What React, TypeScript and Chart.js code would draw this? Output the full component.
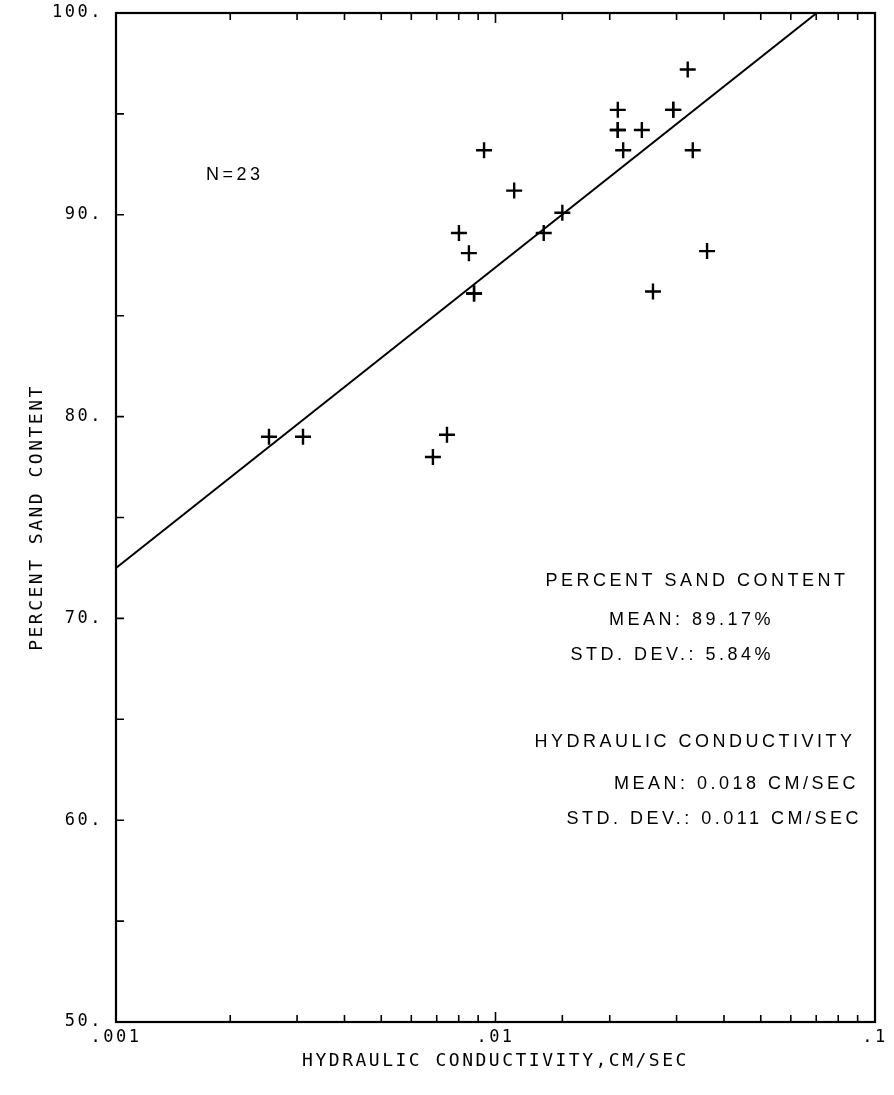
import { useEffect, useRef } from 'react';
import { Chart, registerables } from 'chart.js';

Chart.register(...registerables);

// Hydraulic conductivity (cm/sec) and percent sand content for each sample
const conductivity = [
  0.00253, 0.00311, 0.00684, 0.00745, 0.00801, 0.00851, 0.00878, 0.00878,
  0.00933, 0.0112, 0.0134, 0.0150, 0.0210, 0.0210, 0.0210, 0.0217, 0.0243,
  0.0260, 0.0294, 0.0294, 0.0321, 0.0331, 0.0361,
];
const sandContent = [
  79.0, 79.0, 78.0, 79.1, 89.1, 88.1, 86.1, 86.1,
  93.2, 91.2, 89.1, 90.1, 95.2, 94.2, 94.2, 93.2, 94.2,
  86.2, 95.2, 95.2, 97.2, 93.2, 88.2,
];

// Fitted regression line end points
const fitConductivity = [0.001, 0.0702];
const fitSand = [72.5, 100];

// Axis ticks
const xTickLabels: [number, string][] = [
  [0.001, '.001'],
  [0.01, '.01'],
  [0.1, '.1'],
];
const yTickLabels: [number, string][] = [
  [50, '50.'],
  [60, '60.'],
  [70, '70.'],
  [80, '80.'],
  [90, '90.'],
  [100, '100.'],
];

const sampleCount = 'N=23';
const sandSummary = ['PERCENT SAND CONTENT', 'MEAN: 89.17%', 'STD. DEV.: 5.84%'];
const conductivitySummary = [
  'HYDRAULIC CONDUCTIVITY',
  'MEAN: 0.018 CM/SEC',
  'STD. DEV.: 0.011 CM/SEC',
];

const W = 894;
const H = 1095;
const MONO = '"DejaVu Sans Mono", monospace';
const SANS = '"Liberation Sans", Arial, sans-serif';

const near = (a: number, b: number) => Math.abs(a - b) <= Math.abs(b) * 1e-6;
const isDecade = (v: number) => near(Math.log10(v), Math.round(Math.log10(v)));

const framePlugin = {
  id: 'frameAndText',
  beforeDraw(chart: any) {
    (chart.ctx as any).letterSpacing = '2.5px';
  },
  afterDraw(chart: any) {
    const { ctx, chartArea, scales } = chart;
    const { left, right, top, bottom } = chartArea;
    ctx.save();
    ctx.strokeStyle = '#000';
    ctx.lineWidth = 2.2;
    ctx.strokeRect(left, top, right - left, bottom - top);

    // inward tick marks on bottom, top and left edges
    ctx.lineWidth = 1.6;
    ctx.beginPath();
    for (const t of scales.x.ticks) {
      const px = scales.x.getPixelForValue(t.value);
      if (px <= left + 1 || px >= right - 1) continue;
      const len = isDecade(t.value) ? 10 : 7;
      ctx.moveTo(px, bottom);
      ctx.lineTo(px, bottom - len);
      ctx.moveTo(px, top);
      ctx.lineTo(px, top + len);
    }
    for (const t of scales.y.ticks) {
      const py = scales.y.getPixelForValue(t.value);
      if (py <= top + 1 || py >= bottom - 1) continue;
      ctx.moveTo(left, py);
      ctx.lineTo(left + 8, py);
    }
    ctx.stroke();

    // sample count and summary statistics
    ctx.fillStyle = '#000';
    ctx.textBaseline = 'middle';
    ctx.font = `18px ${SANS}`;
    ctx.letterSpacing = '3.5px';

    ctx.textAlign = 'left';
    ctx.fillText(sampleCount, 206, 175);

    ctx.textAlign = 'center';
    ctx.fillText(sandSummary[0], 697, 581);
    ctx.textAlign = 'right';
    ctx.fillText(sandSummary[1], 774, 620);
    ctx.fillText(sandSummary[2], 774, 655);

    ctx.textAlign = 'center';
    ctx.fillText(conductivitySummary[0], 695, 742);
    ctx.textAlign = 'right';
    ctx.fillText(conductivitySummary[1], 859, 784);
    ctx.fillText(conductivitySummary[2], 862, 819);
    ctx.restore();
  },
};

export default function App() {
  const canvasRef = useRef<HTMLCanvasElement | null>(null);

  useEffect(() => {
    const canvas = canvasRef.current;
    if (!canvas) return;

    const points = conductivity.map((x, i) => ({ x, y: sandContent[i] }));
    const fit = fitConductivity.map((x, i) => ({ x, y: fitSand[i] }));

    const chart = new Chart(canvas, {
      type: 'scatter',
      data: {
        datasets: [
          {
            type: 'line',
            data: fit,
            borderColor: '#000',
            borderWidth: 2,
            pointRadius: 0,
            fill: false,
          } as any,
          {
            type: 'scatter',
            data: points,
            pointStyle: 'cross',
            pointRadius: 8,
            borderColor: '#000',
            backgroundColor: '#000',
            borderWidth: 2.4,
          } as any,
        ],
      },
      options: {
        responsive: false,
        animation: false,
        events: [],
        layout: { padding: { left: 0, top: 13, right: W - 875, bottom: 0 } },
        plugins: {
          legend: { display: false },
          tooltip: { enabled: false },
        },
        scales: {
          x: {
            type: 'logarithmic',
            position: 'bottom',
            min: 0.001,
            max: 0.1,
            grid: { display: false, drawTicks: false },
            border: { display: false },
            ticks: {
              autoSkip: false,
              maxRotation: 0,
              padding: 5,
              color: '#000',
              font: { family: MONO, size: 17 },
              callback: (v: any) => {
                const hit = xTickLabels.find(([val]) => near(Number(v), val));
                return hit ? hit[1] : '';
              },
            },
            title: {
              display: true,
              text: 'HYDRAULIC CONDUCTIVITY,CM/SEC',
              color: '#000',
              font: { family: MONO, size: 18 },
              padding: { top: 0, bottom: 23 },
            },
            afterFit: (s: any) => {
              s.height = H - 1022;
            },
          },
          y: {
            type: 'linear',
            min: 50,
            max: 100,
            grid: { display: false, drawTicks: false },
            border: { display: false },
            ticks: {
              stepSize: 5,
              autoSkip: false,
              padding: 13,
              color: '#000',
              font: { family: MONO, size: 17 },
              callback: (v: any) => {
                const hit = yTickLabels.find(([val]) => near(Number(v), val));
                return hit ? hit[1] : '';
              },
            },
            title: {
              display: true,
              text: 'PERCENT SAND CONTENT',
              color: '#000',
              font: { family: MONO, size: 18 },
              padding: { top: 27, bottom: 0 },
            },
            afterFit: (s: any) => {
              s.width = 116;
              s.paddingTop = 0;
              s.paddingBottom = 0;
            },
          },
        },
      } as any,
      plugins: [framePlugin],
    });

    return () => chart.destroy();
  }, []);

  return (
    <div
      style={{
        position: 'fixed',
        left: 0,
        top: 0,
        width: W,
        height: H,
        background: '#fff',
      }}
    >
      <canvas ref={canvasRef} width={W} height={H} style={{ display: 'block' }} />
    </div>
  );
}
